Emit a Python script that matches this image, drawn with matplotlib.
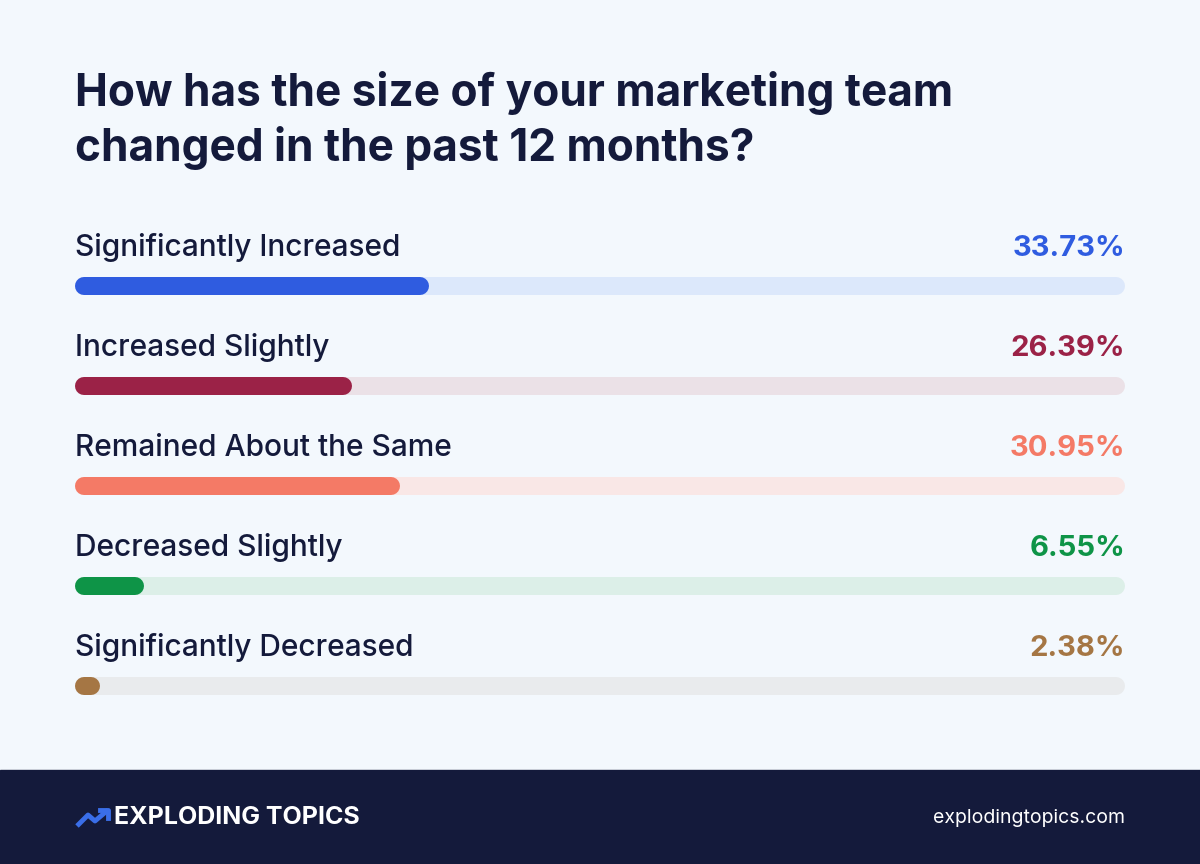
import matplotlib.pyplot as plt
from matplotlib.patches import Rectangle

categories = ["Significantly Increased", "Increased Slightly", "Remained About the Same",
              "Decreased Slightly", "Significantly Decreased"]
values = [33.73, 26.39, 30.95, 6.55, 2.38]
colors = ["#2f5ce0", "#9b2247", "#f47a66", "#0e9447", "#a57644"]
tracks = ["#dce8fb", "#ebe1e7", "#f9e7e6", "#dcefe8", "#e9ebed"]

W, H = 1200, 864
fig = plt.figure(figsize=(12, 8.64), dpi=100)
fig.patch.set_facecolor("#f3f8fd")

# background axes in pixel coords for text and footer
bg = fig.add_axes([0, 0, 1, 1])
bg.set_xlim(0, W); bg.set_ylim(H, 0); bg.axis("off")
bg.add_patch(Rectangle((0, 770), W, 94, color="#141a3b"))
bg.text(75, 93, "How has the size of your marketing team", fontsize=31.8, fontweight="bold",
        color="#141a3b", family="Inter", va="center")
bg.text(75, 148, "changed in the past 12 months?", fontsize=31.8, fontweight="bold",
        color="#141a3b", family="Inter", va="center")
bg.text(114, 818, "EXPLODING TOPICS", fontsize=18, fontweight="bold", color="white",
        family="Inter", va="center")
bg.plot([77, 88, 95, 108], [826, 815, 821, 810], color="#3a6ee8", lw=3.5, solid_capstyle="butt")
bg.plot([100, 108, 108], [810, 810, 818], color="#3a6ee8", lw=3.5)
bg.text(1125, 818, "explodingtopics.com", fontsize=14, color="white", family="Inter",
        va="center", ha="right")

# bar axes: x from 75 to 1125 px = 0..100 %
ax = fig.add_axes([75 / W, 0, 1050 / W, 1])
ax.set_xlim(0, 100); ax.set_ylim(H, 0); ax.axis("off")
ax.patch.set_alpha(0)
lw = 18 * 72 / 100
r = 9 / 1050 * 100
for i, (c, v) in enumerate(zip(categories, values)):
    yb = 286 + 100 * i
    ax.plot([r, 100 - r], [yb, yb], color=tracks[i], lw=lw, solid_capstyle="round")
    ax.plot([r, max(v - r, r)], [yb, yb], color=colors[i], lw=lw, solid_capstyle="round")
    ax.text(0, yb - 38, c, fontsize=21.5, fontweight="medium", color="#141a3b",
            family="Inter", va="center")
    ax.text(100, yb - 38, f"{v:.2f}%", fontsize=21, fontweight="bold", color=colors[i],
            family="Inter", va="center", ha="right")

fig.savefig("out.png", dpi=100, facecolor=fig.get_facecolor())
